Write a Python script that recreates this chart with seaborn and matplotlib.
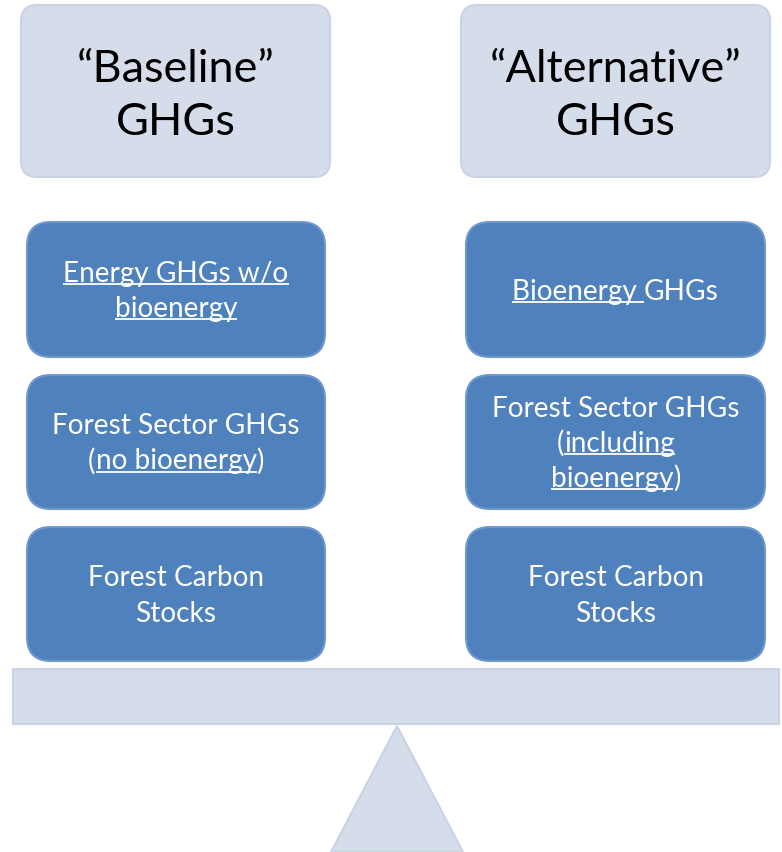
import matplotlib
matplotlib.use("Agg")
import matplotlib.pyplot as plt
import seaborn as sns
from matplotlib.patches import FancyBboxPatch, Polygon

sns.set_theme(style="white")
plt.rcParams["font.family"] = ["Lato", "DejaVu Sans"]

# diagram content
headers = [["\u201cBaseline\u201d", "GHGs"], ["\u201cAlternative\u201d", "GHGs"]]
# each box: list of lines, each line a list of (text, underlined)
left_boxes = [
    [[("Energy GHGs w/o", True)], [("bioenergy", True)]],
    [[("Forest Sector GHGs", False)], [("(", False), ("no bioenergy", True), (")", False)]],
    [[("Forest Carbon", False)], [("Stocks", False)]],
]
right_boxes = [
    [[("Bioenergy ", True), ("GHGs", False)]],
    [[("Forest Sector GHGs", False)], [("(", False), ("including", True)],
     [("bioenergy", True), (")", False)]],
    [[("Forest Carbon", False)], [("Stocks", False)]],
]

W, H = 782, 853
fig = plt.figure(figsize=(W / 100, H / 100), dpi=100)
ax = fig.add_axes([0, 0, 1, 1])
ax.set_xlim(0, W)
ax.set_ylim(H, 0)
ax.axis("off")

light = "#D5DCEA"
light_edge = "#CAD3E6"
blue = "#4F81BD"

renderer = fig.canvas.get_renderer()


def px(p):
    return p * 72 / 100


def text_width(s, size):
    t = ax.text(0, 0, s, fontsize=px(size))
    w = t.get_window_extent(renderer).width
    t.remove()
    return w


def draw_line(segs, cx, base, size, color):
    space = text_width("a a", size) - text_width("aa", size)
    widths = []
    for s, _ in segs:
        w = text_width(s, size)
        if s.endswith(" "):
            w = text_width(s.rstrip(), size) + space
        widths.append(w)
    x = cx - sum(widths) / 2
    for (s, ul), w in zip(segs, widths):
        ax.text(x, base, s, fontsize=px(size), color=color, ha="left", va="baseline")
        if ul:
            ax.plot([x, x + w], [base + size * 0.12, base + size * 0.12], color=color, lw=1.3,
                    solid_capstyle="butt")
        x += w


def box(x0, y0, x1, y1, fc, ec, r):
    ax.add_patch(FancyBboxPatch((x0, y0), x1 - x0, y1 - y0,
                                boxstyle=f"round,pad=0,rounding_size={r}",
                                fc=fc, ec=ec, lw=1.5))


# header boxes
for (x0, x1), lines in zip([(21, 330), (461, 770)], headers):
    box(x0, 6, x1, 178, light, light_edge, 16)
    cx = (x0 + x1) / 2
    for i, ln in enumerate(lines):
        draw_line([(ln, False)], cx, 82 + i * 53, 45, "black")

# blue boxes
rows = [(223, 358), (376, 510), (528, 662)]
for (x0, x1), boxes in zip([(27, 325), (466, 765)], [left_boxes, right_boxes]):
    cx = (x0 + x1) / 2
    for (y0, y1), lines in zip(rows, boxes):
        box(x0, y0, x1, y1, blue, "#6E97CB", 24)
        n = len(lines)
        lh = 35
        first = (y0 + y1) / 2 - (n - 1) * lh / 2 + 9
        for i, segs in enumerate(lines):
            draw_line(segs, cx, first + i * lh, 28, "white")

# seesaw plank and fulcrum
ax.add_patch(plt.Rectangle((13, 670), 766, 55, fc=light, ec=light_edge, lw=1.5))
ax.add_patch(Polygon([(397, 727), (331, 853), (463, 853)], closed=True,
                     fc=light, ec=light_edge, lw=1.5))

fig.savefig("out.png", dpi=100)
